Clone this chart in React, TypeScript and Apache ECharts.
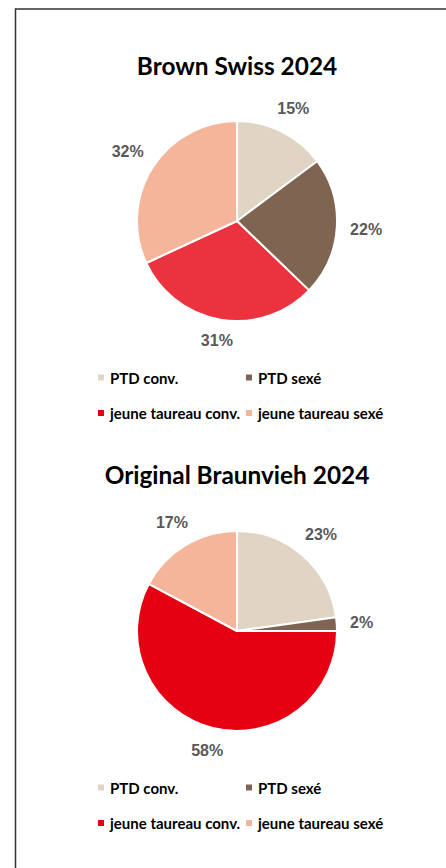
import React, { useEffect, useRef } from 'react';
import * as echarts from 'echarts';

const categories = ['PTD conv.', 'PTD sexé', 'jeune taureau conv.', 'jeune taureau sexé'];
const titles = ['Brown Swiss 2024', 'Original Braunvieh 2024'];
const brownSwissValues = [14.8, 22.4, 30.9, 31.9];
const originalBraunviehValues = [22.8, 2.2, 57.8, 17.2];
const brownSwissColors = ['#E0D4C5', '#7E6451', '#EA333E', '#F5B59B'];
const originalBraunviehColors = ['#E0D4C5', '#7E6451', '#E50012', '#F5B59B'];
const legendColors = ['#E0D4C5', '#7E6451', '#E50012', '#F5B59B'];

export default function App() {
  const ref = useRef<HTMLDivElement>(null);
  useEffect(() => {
    const chart = echarts.init(ref.current!, null, { renderer: 'svg' });
    const cx = 237;
    const R = 100;
    const gap = 13;
    const pies = [
      { title: titles[0], values: brownSwissValues, colors: brownSwissColors, cy: 221, titleY: 65, legendTop: 369 },
      { title: titles[1], values: originalBraunviehValues, colors: originalBraunviehColors, cy: 631, titleY: 474, legendTop: 779 },
    ];
    const series = pies.map((p) => {
      const total = p.values.reduce((a, b) => a + b, 0);
      const mids: number[] = [];
      let acc = 0;
      p.values.forEach((v) => {
        mids.push((acc + v / 2) / total);
        acc += v;
      });
      return {
        type: 'pie',
        center: [cx, p.cy],
        radius: R,
        startAngle: 90,
        clockwise: true,
        silent: true,
        data: categories.map((name, i) => ({ name, value: p.values[i], itemStyle: { color: p.colors[i] } })),
        itemStyle: { borderColor: '#ffffff', borderWidth: 2 },
        label: {
          show: true,
          position: 'outside',
          formatter: (q: any) => Math.round(q.percent) + '%',
          fontFamily: 'Liberation Sans',
          fontWeight: 'bold',
          fontSize: 16,
          color: '#595959',
        },
        labelLine: { show: false },
        labelLayout: (params: any) => {
          const t = mids[params.dataIndex] * 2 * Math.PI;
          const ux = Math.sin(t);
          const uy = -Math.cos(t);
          const w = params.labelRect.width;
          const d = R + gap + (Math.abs(ux) * w) / 2 + Math.abs(uy) * 6;
          return { x: cx + ux * d, y: p.cy + uy * d, align: 'center', verticalAlign: 'middle', hideOverlap: false };
        },
      };
    });
    const legendCommon = {
      orient: 'vertical',
      padding: 0,
      icon: 'rect',
      itemWidth: 8,
      itemHeight: 8,
      itemGap: 18.5,
      selectedMode: false,
      textStyle: { fontFamily: 'Lato', fontWeight: 'bold', fontSize: 15, color: '#000000', lineHeight: 17 },
    };
    const legend = pies.flatMap((p) => [
      {
        ...legendCommon,
        left: 96,
        top: p.legendTop,
        data: [0, 2].map((i) => ({ name: categories[i], itemStyle: { color: legendColors[i] } })),
      },
      {
        ...legendCommon,
        left: 244,
        top: p.legendTop,
        data: [1, 3].map((i) => ({ name: categories[i], itemStyle: { color: legendColors[i] } })),
      },
    ]);
    const graphic = [
      {
        type: 'rect',
        shape: { x: 15.5, y: 9, width: 460, height: 900 },
        style: { fill: 'none', stroke: '#333333', lineWidth: 1.5 },
        silent: true,
      },
      ...pies.map((p) => ({
        type: 'text',
        x: cx,
        y: p.titleY,
        style: {
          text: p.title,
          textAlign: 'center',
          textVerticalAlign: 'middle',
          fontFamily: 'Lato',
          fontWeight: 'bold',
          fontSize: 24.4,
          fill: '#000000',
        },
      })),
    ];
    chart.setOption({
      animation: false,
      backgroundColor: '#ffffff',
      graphic,
      legend,
      series,
    } as any);
    return () => chart.dispose();
  }, []);
  return <div ref={ref} style={{ position: 'absolute', left: 0, top: 0, width: 446, height: 868 }} />;
}
